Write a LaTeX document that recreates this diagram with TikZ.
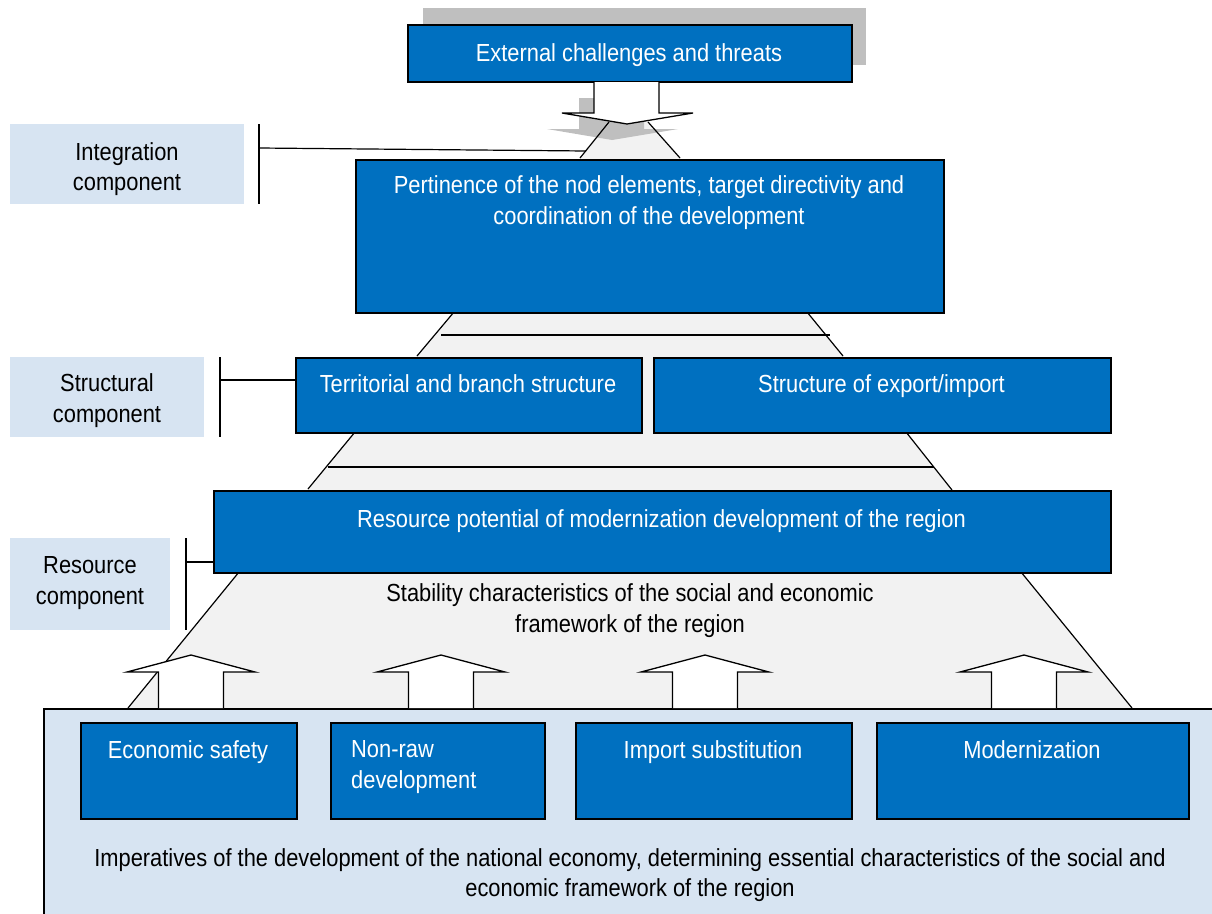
\documentclass[tikz,border=0pt]{standalone}
\usepackage{fontspec}
\setmainfont{Liberation Sans}[FakeStretch=0.885]
\definecolor{boxblue}{RGB}{0,112,192}
\definecolor{lblue}{RGB}{215,228,242}
\definecolor{pyr}{RGB}{242,242,242}
\definecolor{shadowgray}{RGB}{191,191,191}
\newcommand{\dfont}{\fontsize{24.7}{31}\selectfont}
\tikzset{
  bluebox/.style={draw=black, fill=boxblue, line width=1.6pt, inner sep=0pt, anchor=north west},
  lblbox/.style={fill=lblue, inner sep=0pt, anchor=north west},
  wtxt/.style={text=white, font=\dfont, align=center, inner sep=0pt, anchor=north, execute at begin node=\strut},
  btxt/.style={wtxt, text=black},
  thinline/.style={line width=1.2pt},
  arrowshape/.style={fill=white, draw=black, line width=1.3pt, line join=miter},
}
\begin{document}
\begin{tikzpicture}[x=1pt, y=-1pt]
\useasboundingbox (0,0) rectangle (1212,913);
\clip (0,0) rectangle (1212,913);

% shadow of top box and top box
\fill[shadowgray] (423,8) rectangle (866,65);
\node[bluebox, minimum width=444pt, minimum height=57pt] (ext) at (407,24) {};

% pyramid body
\coordinate (a1) at (609,122); \coordinate (a2) at (580,158);
\coordinate (b1) at (648,122); \coordinate (b2) at (680,158);
\coordinate (c1) at (454,312); \coordinate (c2) at (417,356);
\coordinate (d1) at (807,312); \coordinate (d2) at (843,356);
\coordinate (e1) at (355,432); \coordinate (e2) at (308,489);
\coordinate (f1) at (906,432); \coordinate (f2) at (952,490);
\coordinate (g1) at (239,572); \coordinate (g2) at (128,708);
\coordinate (h1) at (1021,572); \coordinate (h2) at (1132,708);
\fill[pyr] (a1) -- (a2) -- (c1) -- (c2) -- (e1) -- (e2) -- (g1) -- (g2) -- (h2) -- (h1) -- (f2) -- (f1) -- (d2) -- (d1) -- (b2) -- (b1) -- cycle;

% shadow of the down arrow
\fill[shadowgray] (579,98) -- (579,129) -- (547,129) -- (612,140) -- (678,129) -- (644,129) -- (644,98) -- cycle;

% pyramid side lines
\draw[thinline] (a1) -- (a2);
\draw[thinline] (b1) -- (b2);
\draw[thinline] (c1) -- (c2);
\draw[thinline] (d1) -- (d2);
\draw[thinline] (e1) -- (e2);
\draw[thinline] (f1) -- (f2);
\draw[thinline] (g1) -- (g2);
\draw[thinline] (h1) -- (h2);

% down arrow
\filldraw[arrowshape] (594,82) -- (594,113) -- (562,113) -- (627,124) -- (693,113) -- (659,113) -- (659,82);

% horizontal lines in the pyramid
\coordinate (l1a) at (441,335); \coordinate (l1b) at (830,335);
\coordinate (l2a) at (328,467); \coordinate (l2b) at (934,467);
\draw[thinline] (l1a) -- (l1b);
\draw[thinline] (l2a) -- (l2b);

% main boxes
\node[bluebox, minimum width=588pt, minimum height=153pt] (pert) at (355,159) {};
\node[bluebox, minimum width=346pt, minimum height=75pt] (ter) at (295,357) {};
\node[bluebox, minimum width=457pt, minimum height=75pt] (exp) at (653,357) {};
\node[bluebox, minimum width=897pt, minimum height=82pt] (res) at (213,490) {};

% label boxes and brackets
\node[lblbox, minimum width=234pt, minimum height=80pt] (lint) at (10,124) {};
\node[lblbox, minimum width=194pt, minimum height=80pt] (lstr) at (10,357) {};
\node[lblbox, minimum width=160pt, minimum height=92pt] (lres) at (10,538) {};

\coordinate (bi1) at (259,124); \coordinate (bi2) at (259,204);
\coordinate (bi3) at (259,148); \coordinate (bi4) at (586,151);
\draw[thinline] (bi1) -- (bi2);
\draw[thinline] (bi3) -- (bi4);

\coordinate (bs1) at (220,357); \coordinate (bs2) at (220,437);
\coordinate (bs3) at (220,380);
\draw[thinline] (bs1) -- (bs2);
\draw[thinline] (bs3) -- ([yshift=-23pt]ter.north west);

\coordinate (br1) at (186,538); \coordinate (br2) at (186,630);
\coordinate (br3) at (186,562);
\draw[thinline] (br1) -- (br2);
\draw[thinline] (br3) -- ([yshift=-72pt]res.north west);

% bottom container
\node[draw=black, fill=lblue, line width=1.6pt, inner sep=0pt, anchor=north west,
      minimum width=1200pt, minimum height=230pt] (imp) at (43,708) {};

% bottom boxes
\node[bluebox, minimum width=216pt, minimum height=96pt] (eco) at (80,722) {};
\node[bluebox, minimum width=214pt, minimum height=96pt] (nonraw) at (330,722) {};
\node[bluebox, minimum width=276pt, minimum height=96pt] (impsub) at (575,722) {};
\node[bluebox, minimum width=312pt, minimum height=96pt] (mod) at (876,722) {};

% up arrows
\foreach \c in {191,441,705,1024}{
  \filldraw[arrowshape] ({\c-32.5},708) -- ({\c-32.5},672) -- ({\c-64},672) -- (\c,655) -- ({\c+64},672) -- ({\c+32.5},672) -- ({\c+32.5},708);
}

% texts
\node[wtxt] (extt) at (629,39.3) {External challenges and threats};
\node[wtxt] (pertt) at (649,175.8) {Pertinence of the nod elements, target directivity and\\coordination of the development};
\node[btxt] (lintt) at (127,142) {Integration\\[-1pt]component};
\node[btxt] (lstrt) at (107,373.8) {Structural\\component};
\node[btxt] (lrest) at (90,555.8) {Resource\\component};
\node[wtxt] (tert) at (468,370.3) {Territorial and branch structure};
\node[wtxt] (expt) at (881.5,370.3) {Structure of export/import};
\node[wtxt] (rest) at (661.5,505.3) {Resource potential of modernization development of the region};
\node[btxt] (stab) at (630,583.8) {Stability characteristics of the social and economic\\framework of the region};
\node[wtxt] (ecot) at (188,736.3) {Economic safety};
\node[wtxt, anchor=north west, align=left] (nonrawt) at (351,739.8) {Non-raw\\development};
\node[wtxt] (impsubt) at (713,736.3) {Import substitution};
\node[wtxt] (modt) at (1032,736.3) {Modernization};
\node[btxt] (impt) at (630,848.8) {Imperatives of the development of the national economy, determining essential characteristics of the social and\\[-1pt]economic framework of the region};
\end{tikzpicture}
\end{document}
